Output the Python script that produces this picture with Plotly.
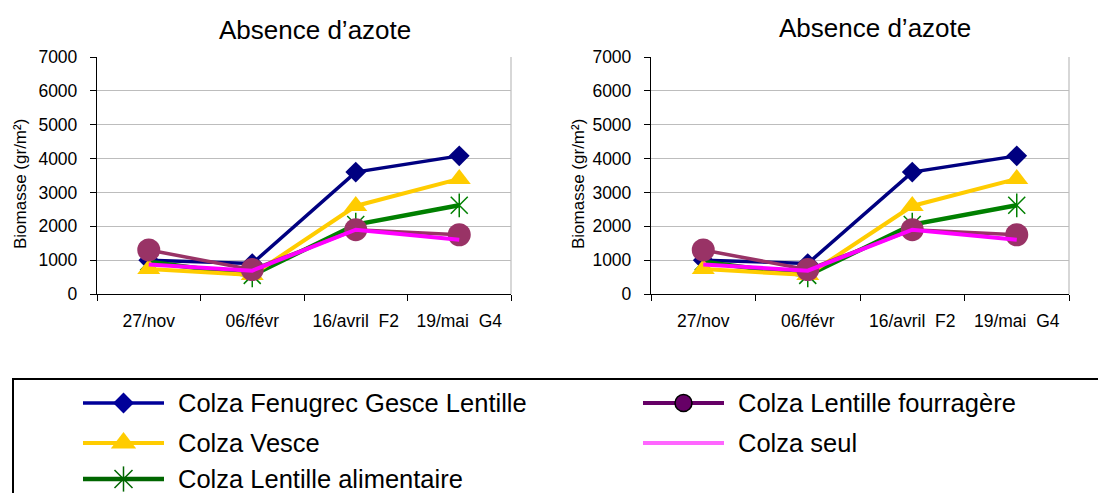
import plotly.graph_objects as go

# ---------------- data ----------------
categories = ["27/nov", "06/févr", "16/avril\u00a0\u00a0F2", "19/mai\u00a0\u00a0G4"]
fenugrec = [1000, 900, 3600, 4080]
vesce = [740, 560, 2600, 3400]
alimentaire = [950, 550, 2050, 2620]
fourragere = [1300, 720, 1900, 1750]
seul = [870, 690, 1900, 1600]

series_names = ["Colza Fenugrec Gesce Lentille", "Colza Vesce", "Colza Lentille alimentaire",
                "Colza Lentille fourragère", "Colza seul"]
chart_title = "Absence d\u2019azote"
y_title = "Biomasse (gr/m²)"

FONT = "Liberation Sans, Arial, sans-serif"
W, H = 1098, 493

BLUE = "#000080"
YELLOW = "#FFCC00"
GREEN = "#008000"
PURPLE = "#993366"
PINK = "#FF00FF"

fig = go.Figure()

def add_panel(xa, ya):
    # order of drawing: Fenugrec, Alimentaire, Vesce, Fourragere, Seul
    fig.add_trace(go.Scatter(x=categories, y=fenugrec, mode="lines+markers", xaxis=xa, yaxis=ya,
                             line=dict(color=BLUE, width=3.5),
                             marker=dict(symbol="diamond", size=16, color=BLUE),
                             name=series_names[0], showlegend=False))
    fig.add_trace(go.Scatter(x=categories, y=alimentaire, mode="lines+markers", xaxis=xa, yaxis=ya,
                             line=dict(color=GREEN, width=4.5),
                             marker=dict(symbol="x-thin-open", size=17, color=GREEN,
                                         line=dict(color=GREEN, width=1.5)),
                             name=series_names[2], showlegend=False))
    fig.add_trace(go.Scatter(x=categories, y=alimentaire, mode="markers", xaxis=xa, yaxis=ya,
                             marker=dict(symbol="line-ns-open", size=17, color=GREEN,
                                         line=dict(color=GREEN, width=1.5)),
                             showlegend=False, hoverinfo="skip"))
    fig.add_trace(go.Scatter(x=categories, y=vesce, mode="lines+markers", xaxis=xa, yaxis=ya,
                             line=dict(color=YELLOW, width=4),
                             marker=dict(symbol="triangle-up", size=20, color=YELLOW),
                             name=series_names[1], showlegend=False))
    fig.add_trace(go.Scatter(x=categories, y=fourragere, mode="lines+markers", xaxis=xa, yaxis=ya,
                             line=dict(color=PURPLE, width=3.5),
                             marker=dict(symbol="circle", size=23, color=PURPLE),
                             name=series_names[3], showlegend=False))
    fig.add_trace(go.Scatter(x=categories, y=seul, mode="lines", xaxis=xa, yaxis=ya,
                             line=dict(color=PINK, width=4),
                             name=series_names[4], showlegend=False))

add_panel("x", "y")
add_panel("x2", "y2")

def px_x(v):
    return v / W

def px_y(v):
    return 1 - v / H

ydom = [px_y(294), px_y(57)]
xaxis_common = dict(type="category", range=[-0.5, 3.5], showgrid=False, showline=True,
                    linecolor="black", linewidth=1.3, ticks="outside", tickson="boundaries",
                    ticklen=6, tickcolor="black", tickwidth=1.3,
                    tickfont=dict(family=FONT, size=17.5, color="black"),
                    ticklabelstandoff=11, zeroline=False, fixedrange=True)
yaxis_common = dict(range=[0, 7000], dtick=1000, showgrid=True, gridcolor="#BDBDBD", gridwidth=1.2,
                    showline=True, linecolor="black", linewidth=1.3, ticks="outside",
                    ticklen=6, tickcolor="black", tickwidth=1.3,
                    tickfont=dict(family=FONT, size=17.5, color="black"),
                    ticklabelstandoff=9, zeroline=False, fixedrange=True)

fig.update_layout(
    width=W, height=H,
    margin=dict(l=0, r=0, t=0, b=0, autoexpand=False),
    paper_bgcolor="white", plot_bgcolor="rgba(0,0,0,0)",
    showlegend=False,
    xaxis=dict(domain=[px_x(97), px_x(511)], anchor="y", **xaxis_common),
    yaxis=dict(domain=ydom, anchor="x", **yaxis_common),
    xaxis2=dict(domain=[px_x(651), px_x(1069)], anchor="y2", **xaxis_common),
    yaxis2=dict(domain=ydom, anchor="x2", **yaxis_common),
    xaxis3=dict(domain=[0, 1], range=[0, W], visible=False, fixedrange=True, anchor="y3"),
    yaxis3=dict(domain=[0, 1], range=[H, 0], visible=False, fixedrange=True, anchor="x3"),
)

# right borders of plot areas
for xr, yr in [("x", "y"), ("x2", "y2")]:
    fig.add_shape(type="line", xref=f"{xr} domain", yref=f"{yr} domain",
                  x0=1, x1=1, y0=0, y1=1, line=dict(color="#BDBDBD", width=1.2))

# titles
annotations = []
for cx, cy in [(315, 30), (875, 28)]:
    annotations.append(dict(text=chart_title, x=px_x(cx), y=px_y(cy), xref="paper", yref="paper",
                            showarrow=False, xanchor="center", yanchor="middle",
                            font=dict(family=FONT, size=26, color="black")))
for cx in [20, 578]:
    annotations.append(dict(text=y_title, x=px_x(cx), y=px_y(184), xref="paper", yref="paper",
                            showarrow=False, textangle=-90, xanchor="center", yanchor="middle",
                            font=dict(family=FONT, size=17, color="black")))

# ---------------- custom legend ----------------
legend_line_x = {0: [83, 164], 1: [643, 724]}
legend_text_x = {0: 176, 1: 736}
legend_row_y = [403, 443, 479]
legend_slots = [(0, 0), (0, 1), (0, 2), (1, 0), (1, 1)]  # (col,row) per series
legend_styles = [
    dict(color="#000099", width=3.5, marker=dict(symbol="diamond", size=16, color="#000099")),
    dict(color=YELLOW, width=4, marker=dict(symbol="triangle-up", size=22, color=YELLOW)),
    dict(color="#006600", width=4.5, marker=None),
    dict(color="#660066", width=4, marker=dict(symbol="circle", size=17, color="#660066",
                                               line=dict(color="black", width=1.5))),
    dict(color="#FF66FF", width=4, marker=None),
]
for i, name in enumerate(series_names):
    col, row = legend_slots[i]
    st = legend_styles[i]
    xs = legend_line_x[col]
    yy = legend_row_y[row]
    fig.add_trace(go.Scatter(x=xs, y=[yy, yy], mode="lines", xaxis="x3", yaxis="y3",
                             line=dict(color=st["color"], width=st["width"]),
                             showlegend=False, hoverinfo="skip"))
    mx = (xs[0] + xs[1]) / 2
    if st["marker"] is not None:
        fig.add_trace(go.Scatter(x=[mx], y=[yy], mode="markers", xaxis="x3", yaxis="y3",
                                 marker=st["marker"], showlegend=False, hoverinfo="skip"))
    if i == 2:
        for sym in ["x-thin-open", "line-ns-open"]:
            fig.add_trace(go.Scatter(x=[mx], y=[yy], mode="markers", xaxis="x3", yaxis="y3",
                                     marker=dict(symbol=sym, size=18, color="#006600",
                                                 line=dict(color="#006600", width=1.5)),
                                     showlegend=False, hoverinfo="skip"))
    annotations.append(dict(text=name, x=legend_text_x[col], y=yy, xref="x3", yref="y3",
                            showarrow=False, xanchor="left", yanchor="middle",
                            font=dict(family=FONT, size=25.5, color="black")))

fig.add_shape(type="rect", xref="paper", yref="paper", x0=px_x(13), x1=1.02, y0=-0.05, y1=px_y(379),
              line=dict(color="black", width=2), fillcolor="rgba(0,0,0,0)", layer="above")

fig.update_layout(annotations=annotations)
fig.write_html("out.html", config={"displayModeBar": False},
               post_script="document.body.style.margin='0';document.body.style.padding='0';")
